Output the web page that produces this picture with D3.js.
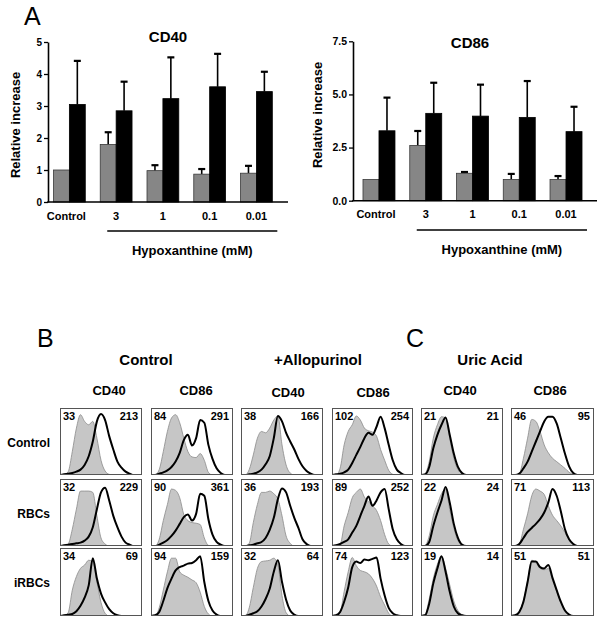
<!DOCTYPE html>
<html><head><meta charset="utf-8">
<script src="https://cdn.jsdelivr.net/npm/d3@7"></script>
<style>body{margin:0;background:#fff} svg{display:block} text{font-family:"Liberation Sans",Arial,Helvetica,sans-serif}</style>
</head><body><svg id="c" width="600" height="623"></svg>
<script>
// ---------- Panel A data ----------
const categories = ["Control","3","1","0.1","0.01"];
const cd40Gray = [1.0,1.8,0.98,0.87,0.9];
const cd40GrayErr = [1.0,2.18,1.15,1.03,1.13];
const cd40Black = [3.05,2.85,3.23,3.6,3.45];
const cd40BlackErr = [4.41,3.76,4.52,4.63,4.07];
const cd86Gray = [1.0,2.6,1.29,1.0,1.0];
const cd86GrayErr = [1.0,3.28,1.35,1.26,1.16];
const cd86Black = [3.29,4.11,3.98,3.92,3.25];
const cd86BlackErr = [4.85,5.55,5.46,5.63,4.42];
const cd40Ticks = [0,1,2,3,4,5];
const cd86Ticks = [0,2.5,5,7.5];

// ---------- Panel B/C data ----------
const groupLabels = ["Control","+Allopurinol","Uric Acid"];
const markerLabels = ["CD40","CD86","CD40","CD86","CD40","CD86"];
const rowLabels = ["Control","RBCs","iRBCs"];
const mfiLeft  = [[33,84,38,102,21,46],[32,90,36,89,22,71],[34,94,32,74,19,51]];
const mfiRight = [[213,291,166,254,21,95],[229,361,193,252,24,113],[69,159,64,123,14,51]];
const histBins = [0,0.05,0.1,0.15,0.2,0.25,0.3,0.35,0.4,0.45,0.5,0.55,0.6,0.65,0.7,0.75,0.8,0.85,0.9,0.95,1];

const gray_ctl_c1=[0,0,0.05,0.35,0.7,0.9,0.8,0.75,0.8,0.55,0.22,0.06,0.01,0,0,0,0,0,0,0,0];
const black_ctl_c1=[0,0.01,0.02,0.03,0.05,0.08,0.15,0.28,0.5,0.8,0.91,0.82,0.58,0.38,0.2,0.11,0.05,0.02,0,0,0];
const gray_ctl_c2=[0,0,0.08,0.35,0.65,0.85,0.9,0.78,0.55,0.35,0.27,0.26,0.32,0.22,0.04,0,0,0,0,0,0];
const black_ctl_c2=[0,0,0.02,0.04,0.07,0.12,0.2,0.33,0.52,0.6,0.44,0.55,0.82,0.78,0.45,0.24,0.1,0.03,0,0,0];
const gray_ctl_c3=[0,0,0.08,0.3,0.55,0.65,0.63,0.7,0.82,0.88,0.45,0.15,0.03,0,0,0,0,0,0,0,0];
const black_ctl_c3=[0,0,0.01,0.02,0.04,0.08,0.16,0.28,0.55,0.88,0.8,0.63,0.5,0.38,0.24,0.13,0.06,0.02,0,0,0];
const gray_ctl_c4=[0,0,0.1,0.45,0.65,0.75,0.88,0.82,0.7,0.66,0.64,0.58,0.38,0.22,0.07,0.01,0,0,0,0,0];
const black_ctl_c4=[0,0.01,0.02,0.04,0.08,0.18,0.3,0.42,0.55,0.63,0.6,0.72,0.87,0.7,0.45,0.22,0.08,0.03,0,0,0];
const gray_ctl_c5=[0,0.02,0.2,0.55,0.75,0.87,0.85,0.55,0.25,0.08,0.02,0,0,0,0,0,0,0,0,0,0];
const black_ctl_c5=[0,0.01,0.12,0.4,0.6,0.75,0.86,0.6,0.32,0.12,0.03,0,0,0,0,0,0,0,0,0,0];
const gray_ctl_c6=[0,0,0.02,0.25,0.55,0.83,0.8,0.65,0.45,0.33,0.25,0.2,0.15,0.1,0.04,0.01,0,0,0,0,0];
const black_ctl_c6=[0,0,0.02,0.1,0.2,0.35,0.5,0.65,0.8,0.87,0.87,0.77,0.55,0.32,0.13,0.03,0,0,0,0,0];

const gray_rbc_c1=[0,0,0.03,0.25,0.55,0.82,0.82,0.82,0.8,0.45,0.12,0.03,0,0,0,0,0,0,0,0,0];
const black_rbc_c1=[0,0.01,0.02,0.03,0.04,0.05,0.08,0.14,0.28,0.55,0.8,0.87,0.68,0.45,0.28,0.14,0.05,0.02,0,0,0];
const gray_rbc_c2=[0,0,0.1,0.38,0.62,0.85,0.83,0.72,0.47,0.38,0.35,0.34,0.32,0.12,0.01,0,0,0,0,0,0];
const black_rbc_c2=[0,0,0.02,0.05,0.09,0.15,0.23,0.33,0.43,0.47,0.38,0.48,0.78,0.75,0.4,0.17,0.06,0.02,0,0,0];
const gray_rbc_c3=[0,0,0.04,0.35,0.62,0.8,0.8,0.82,0.78,0.7,0.45,0.15,0.04,0,0,0,0,0,0,0,0];
const black_rbc_c3=[0,0,0.01,0.02,0.04,0.06,0.12,0.24,0.42,0.7,0.86,0.8,0.6,0.42,0.27,0.1,0.03,0,0,0,0];
const gray_rbc_c4=[0,0,0.02,0.3,0.5,0.72,0.8,0.85,0.73,0.66,0.6,0.53,0.38,0.17,0.03,0,0,0,0,0,0];
const black_rbc_c4=[0,0.01,0.03,0.06,0.1,0.2,0.3,0.45,0.6,0.74,0.6,0.68,0.8,0.85,0.55,0.25,0.1,0.03,0,0,0];
const gray_rbc_c5=[0,0.01,0.15,0.45,0.62,0.78,0.85,0.55,0.27,0.08,0.02,0,0,0,0,0,0,0,0,0,0];
const black_rbc_c5=[0,0,0.06,0.3,0.5,0.68,0.88,0.65,0.33,0.12,0.02,0,0,0,0,0,0,0,0,0,0];
const gray_rbc_c6=[0,0,0.03,0.25,0.48,0.75,0.85,0.82,0.77,0.6,0.46,0.38,0.3,0.2,0.1,0.03,0,0,0,0,0];
const black_rbc_c6=[0,0,0.03,0.12,0.21,0.27,0.33,0.4,0.5,0.65,0.85,0.75,0.52,0.25,0.1,0.03,0,0,0,0,0];

const gray_irbc_c1=[0,0,0.05,0.38,0.58,0.7,0.75,0.82,0.8,0.5,0.2,0.04,0,0,0,0,0,0,0,0,0];
const black_irbc_c1=[0,0.01,0.02,0.03,0.07,0.15,0.27,0.45,0.85,0.55,0.33,0.2,0.1,0.04,0.01,0,0,0,0,0,0];
const gray_irbc_c2=[0,0,0.12,0.38,0.65,0.85,0.85,0.65,0.6,0.57,0.53,0.49,0.35,0.14,0.03,0,0,0,0,0,0];
const black_irbc_c2=[0,0.01,0.06,0.22,0.41,0.55,0.67,0.72,0.74,0.77,0.78,0.82,0.88,0.5,0.22,0.08,0.02,0,0,0,0];
const gray_irbc_c3=[0,0,0.12,0.42,0.7,0.8,0.81,0.82,0.85,0.75,0.3,0.05,0,0,0,0,0,0,0,0,0];
const black_irbc_c3=[0,0,0.02,0.04,0.07,0.14,0.25,0.4,0.65,0.82,0.5,0.24,0.08,0.02,0,0,0,0,0,0,0];
const gray_irbc_c4=[0,0,0.05,0.36,0.65,0.86,0.74,0.67,0.65,0.62,0.55,0.44,0.28,0.16,0.04,0,0,0,0,0,0];
const black_irbc_c4=[0,0.01,0.06,0.21,0.42,0.72,0.8,0.78,0.83,0.82,0.84,0.86,0.55,0.3,0.12,0.04,0.01,0,0,0,0];
const gray_irbc_c5=[0,0.02,0.25,0.55,0.76,0.88,0.7,0.46,0.22,0.08,0.02,0,0,0,0,0,0,0,0,0,0];
const black_irbc_c5=[0,0.01,0.18,0.48,0.7,0.88,0.65,0.36,0.14,0.04,0.01,0,0,0,0,0,0,0,0,0,0];
const gray_irbc_c6=[0,0.01,0.07,0.23,0.52,0.82,0.78,0.7,0.68,0.7,0.53,0.37,0.2,0.08,0.02,0,0,0,0,0,0];
const black_irbc_c6=[0,0.01,0.06,0.21,0.5,0.8,0.8,0.72,0.7,0.75,0.56,0.38,0.21,0.08,0.02,0,0,0,0,0,0];

const grayHists = [
  [gray_ctl_c1,gray_ctl_c2,gray_ctl_c3,gray_ctl_c4,gray_ctl_c5,gray_ctl_c6],
  [gray_rbc_c1,gray_rbc_c2,gray_rbc_c3,gray_rbc_c4,gray_rbc_c5,gray_rbc_c6],
  [gray_irbc_c1,gray_irbc_c2,gray_irbc_c3,gray_irbc_c4,gray_irbc_c5,gray_irbc_c6]];
const blackHists = [
  [black_ctl_c1,black_ctl_c2,black_ctl_c3,black_ctl_c4,black_ctl_c5,black_ctl_c6],
  [black_rbc_c1,black_rbc_c2,black_rbc_c3,black_rbc_c4,black_rbc_c5,black_rbc_c6],
  [black_irbc_c1,black_irbc_c2,black_irbc_c3,black_irbc_c4,black_irbc_c5,black_irbc_c6]];

const svg = d3.select("#c");
const FONT = '"Liberation Sans",Arial,Helvetica,sans-serif';

// ---------- bar chart ----------
function barChart(o){
  const g = svg.append("g");
  const y = d3.scaleLinear().domain(o.ydom).range([o.y0, o.y1]);
  const x0 = d3.scaleBand().domain(categories).range(o.xr).paddingInner(o.pad).paddingOuter(o.pad/2);
  const x1 = d3.scaleBand().domain(["gray","black"]).range([0, x0.bandwidth()]);
  const rows = categories.map((c,i)=>({c, vals:[
    {k:"gray", v:o.gray[i], e:o.grayErr[i]},
    {k:"black", v:o.black[i], e:o.blackErr[i]}]}));
  const grp = g.selectAll("g.grp").data(rows).join("g").attr("transform", d=>`translate(${x0(d.c)},0)`);
  // error bars
  grp.selectAll("g.err").data(d=>d.vals.filter(v=>v.e>v.v)).join("g").each(function(d){
    const cx = x1(d.k)+x1.bandwidth()/2;
    const s = d3.select(this);
    s.append("line").attr("x1",cx).attr("x2",cx).attr("y1",y(d.v)).attr("y2",y(d.e)).attr("stroke","#000").attr("stroke-width",1.6);
    s.append("line").attr("x1",cx-3.5).attr("x2",cx+3.5).attr("y1",y(d.e)).attr("y2",y(d.e)).attr("stroke","#000").attr("stroke-width",2.2);
  });
  grp.selectAll("rect").data(d=>d.vals).join("rect")
    .attr("x", d=>x1(d.k)).attr("width", x1.bandwidth())
    .attr("y", d=>y(d.v)).attr("height", d=>y(0)-y(d.v))
    .attr("fill", d=>d.k==="gray"?"#868686":"#000")
    .attr("stroke", d=>d.k==="gray"?"#3a3a3a":"#000").attr("stroke-width",0.8);
  // axes
  const ax = g.append("g").attr("transform",`translate(${o.ax},0)`)
    .call(d3.axisLeft(y).tickValues(o.ticks).tickSize(4).tickSizeOuter(0).tickPadding(2).tickFormat(o.fmt));
  ax.select(".domain").attr("stroke-width",1.6);
  ax.selectAll(".tick line").attr("stroke-width",1.3);
  ax.selectAll("text").attr("font-family",FONT).attr("font-weight","bold").attr("font-size",o.tickFs).attr("fill","#000");
  g.append("line").attr("x1",o.ax-0.8).attr("x2",o.axEnd).attr("y1",y(0)).attr("y2",y(0)).attr("stroke","#000").attr("stroke-width",1.6);
  // category labels
  g.selectAll("text.cat").data(categories).join("text").attr("class","cat")
    .attr("x", d=>x0(d)+x0.bandwidth()/2+(d==="Control"?-3:0)).attr("y", o.catY)
    .attr("text-anchor","middle").attr("font-weight","bold").attr("font-size",11).text(d=>d);
  // hypoxanthine bracket
  g.append("line").attr("x1",x0("3")+7).attr("x2",x0("0.01")+x0.bandwidth()+5)
    .attr("y1",o.lineY).attr("y2",o.lineY).attr("stroke","#000").attr("stroke-width",1.3);
  g.append("text").attr("x",(x0("3")+x0("0.01")+x0.bandwidth())/2+6).attr("y",o.lineY+24)
    .attr("text-anchor","middle").attr("font-weight","bold").attr("font-size",13).text("Hypoxanthine (mM)");
  g.append("text").attr("x",o.titleX).attr("y",o.titleY).attr("text-anchor","middle")
    .attr("font-weight","bold").attr("font-size",15).text(o.title);
  g.append("text").attr("transform",`translate(${o.ylabX},${o.ylabY}) rotate(-90)`).attr("text-anchor","middle")
    .attr("font-weight","bold").attr("font-size",13).text("Relative increase");
}

barChart({ydom:[0,5], y0:202, y1:42, xr:[46,279.8], pad:0.32, gray:cd40Gray, grayErr:cd40GrayErr,
  black:cd40Black, blackErr:cd40BlackErr, ax:48, axEnd:288, ticks:cd40Ticks, fmt:d3.format("d"), tickFs:10,
  catY:220, lineY:231, title:"CD40", titleX:168, titleY:42, ylabX:20, ylabY:125});
barChart({ydom:[0,7.5], y0:200.7, y1:41.3, xr:[355.6,589.4], pad:0.316, gray:cd86Gray, grayErr:cd86GrayErr,
  black:cd86Black, blackErr:cd86BlackErr, ax:353, axEnd:597, ticks:cd86Ticks, fmt:d3.format(".1f"), tickFs:10.5,
  catY:218, lineY:230, title:"CD86", titleX:470, titleY:48, ylabX:322, ylabY:115});

// panel letters
svg.append("text").attr("x",24).attr("y",25).attr("font-size",25).text("A");
svg.append("text").attr("x",37).attr("y",347).attr("font-size",25).text("B");
svg.append("text").attr("x",406).attr("y",347).attr("font-size",25).text("C");

// ---------- flow histograms ----------
const colX = [60,151,241,332,421,511];
const colW = [82,82,82,81,82,83];
const rowY = [408,479,548];
const rowH = [67,67,68];
const groupX = [146,318,490];
const headerX = [109,196,288,373,460,550];

groupLabels.forEach((t,i)=>svg.append("text").attr("x",groupX[i]).attr("y",365).attr("text-anchor","middle")
  .attr("font-weight","bold").attr("font-size",15).text(t));
markerLabels.forEach((t,i)=>svg.append("text").attr("x",headerX[i]).attr("y",i===2||i===3?397:395).attr("text-anchor","middle")
  .attr("font-weight","bold").attr("font-size",13).text(t));
rowLabels.forEach((t,r)=>svg.append("text").attr("x",50).attr("y",rowY[r]+rowH[r]/2+5).attr("text-anchor","end")
  .attr("font-weight","bold").attr("font-size",12).text(t));

const defs = svg.append("defs");
rowLabels.forEach((rl,r)=>{
  markerLabels.forEach((ml,c)=>{
    const bx=colX[c], by=rowY[r], bw=colW[c], bh=rowH[r];
    const id=`clip${r}_${c}`;
    defs.append("clipPath").attr("id",id).append("rect").attr("x",bx).attr("y",by).attr("width",bw).attr("height",bh);
    const xs = d3.scaleLinear().domain([0,1]).range([bx,bx+bw]);
    const ys = d3.scaleLinear().domain([0,1]).range([by+bh,by]);
    const g = svg.append("g");
    const cg = g.append("g").attr("clip-path",`url(#${id})`);
    const area = d3.area().x((d,i)=>xs(histBins[i])).y0(ys(0)).y1(d=>ys(d)).curve(d3.curveMonotoneX);
    const line = d3.line().x((d,i)=>xs(histBins[i])).y(d=>ys(d)).curve(d3.curveMonotoneX);
    cg.append("path").datum(grayHists[r][c]).attr("d",area).attr("fill","#c6c6c6").attr("stroke","#8a8a8a").attr("stroke-width",0.8);
    cg.append("path").datum(blackHists[r][c]).attr("d",line).attr("fill","none").attr("stroke","#000").attr("stroke-width",2);
    g.append("rect").attr("x",bx+0.5).attr("y",by+0.5).attr("width",bw-1).attr("height",bh-1)
      .attr("fill","none").attr("stroke","#555").attr("stroke-width",1);
    g.append("text").attr("x",bx+3).attr("y",by+12).attr("font-weight","bold").attr("font-size",11).text(mfiLeft[r][c]);
    g.append("text").attr("x",bx+bw-4).attr("y",by+12).attr("text-anchor","end").attr("font-weight","bold").attr("font-size",11).text(mfiRight[r][c]);
  });
});
</script></body></html>
